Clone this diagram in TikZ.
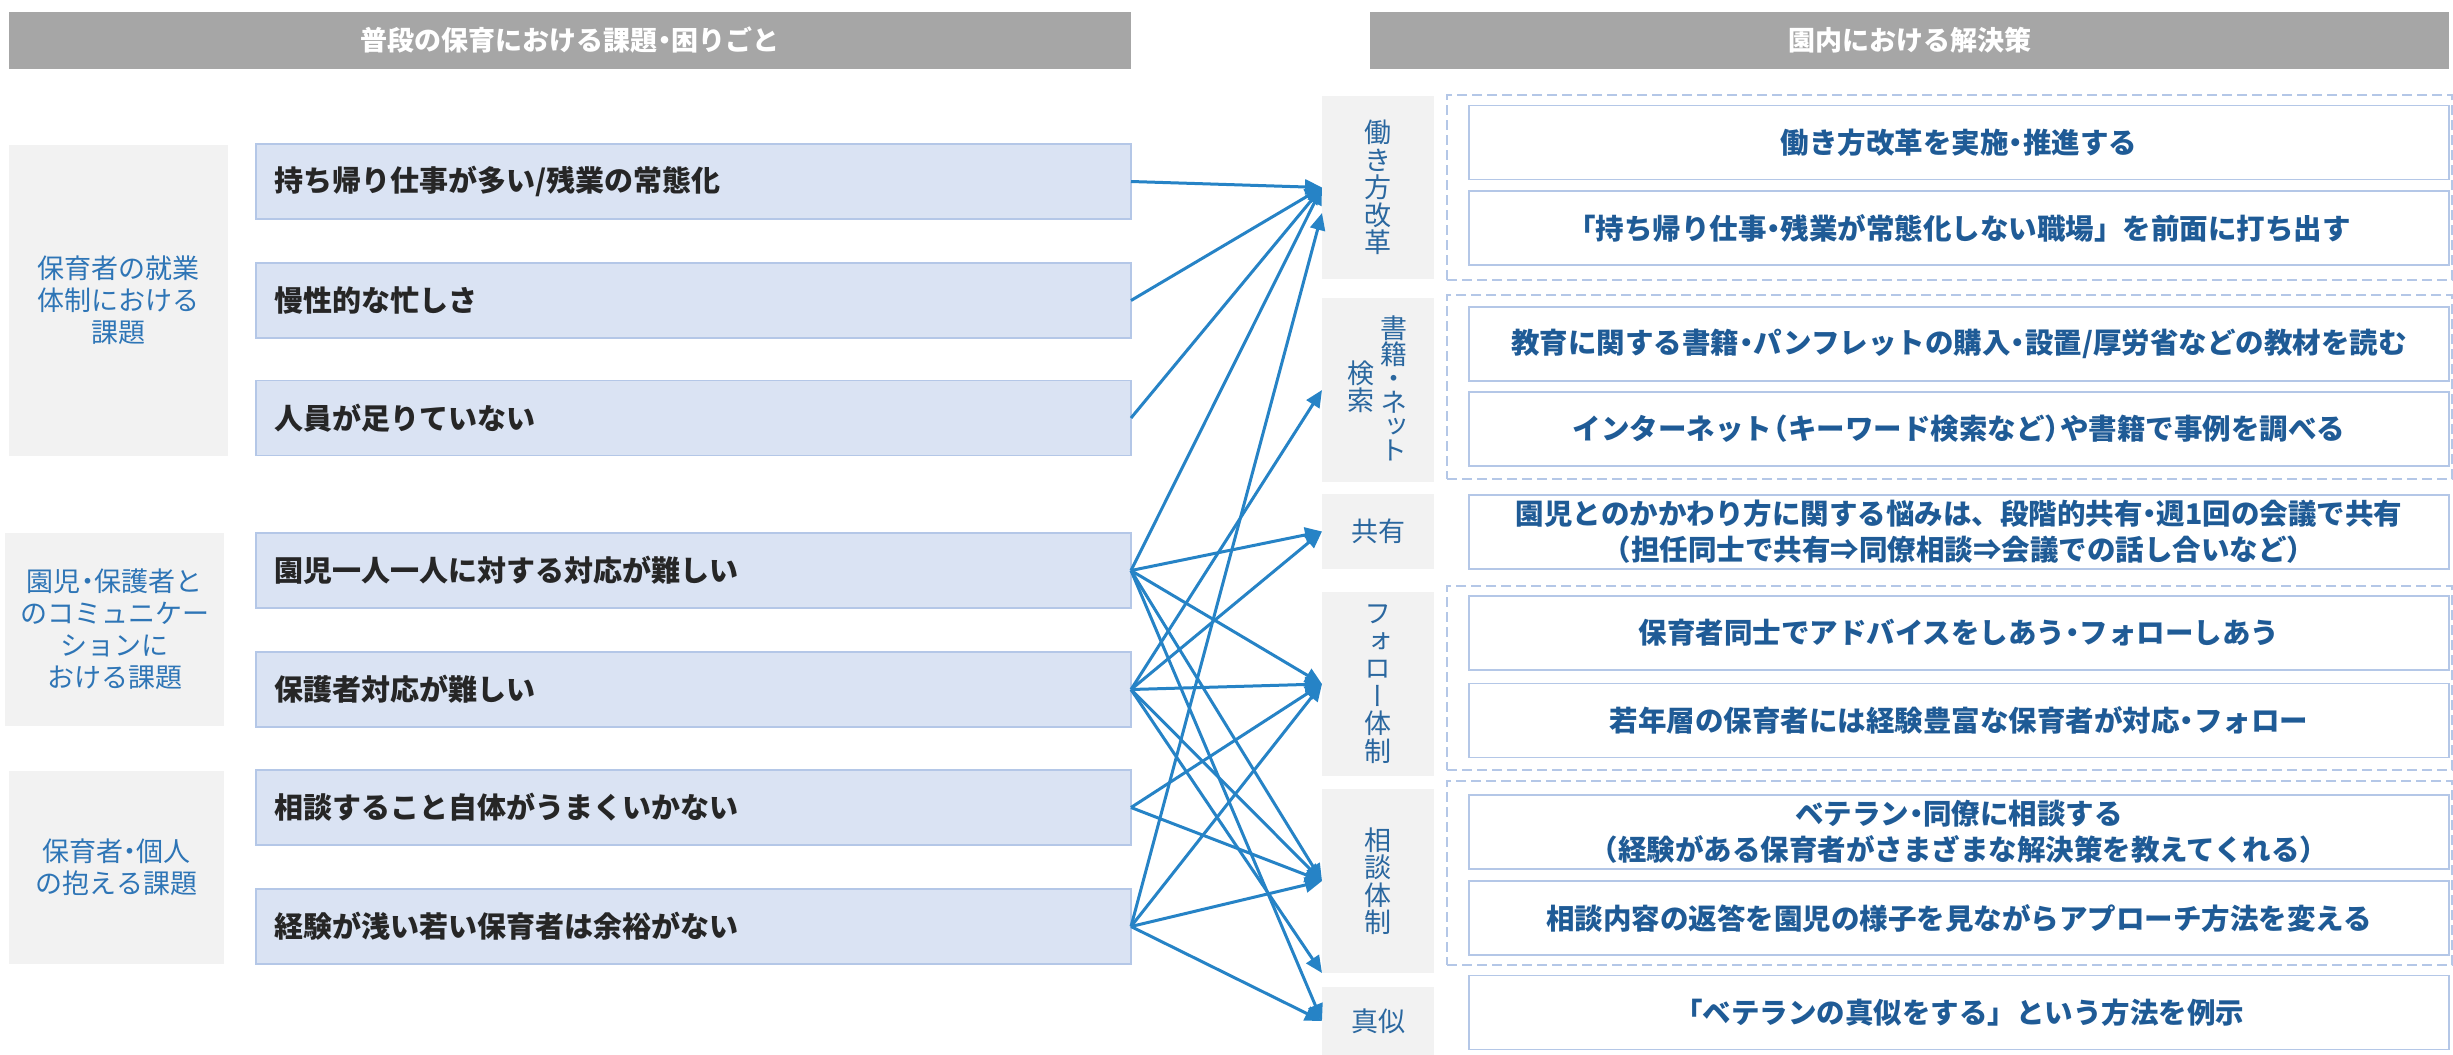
\documentclass[tikz,border=0pt]{standalone}
\usepackage{fontspec}
\setmainfont{Noto Sans CJK JP}
\newfontfamily\jpvert[RawFeature=+vert]{Noto Sans CJK JP}
\usetikzlibrary{arrows.meta}
\definecolor{hdrgray}{HTML}{A6A6A6}
\definecolor{greybg}{HTML}{F2F2F2}
\definecolor{itemfill}{HTML}{DAE3F3}
\definecolor{itemline}{HTML}{B4C7E7}
\definecolor{itemtext}{HTML}{262626}
\definecolor{catblue}{HTML}{2E75B6}
\definecolor{labblue}{HTML}{2A679F}
\definecolor{solblue}{HTML}{1F5B96}
\definecolor{arrowblue}{HTML}{2683C6}
\newcommand{\hdot}{\makebox[0.5em][c]{・}}
\newcommand{\hlp}{\makebox[0.55em][r]{（}}
\newcommand{\hrp}{\makebox[0.55em][l]{）}}
\begin{document}
\begin{tikzpicture}[x=1pt,y=-1pt,
  hdrbox/.style={fill=hdrgray, text=white, inner sep=0pt, outer sep=0pt,
    font=\fontsize{27}{30}\selectfont\bfseries, minimum height=57pt},
  catbox/.style={fill=greybg, text=catblue, align=center, inner sep=0pt, outer sep=0pt,
    font=\fontsize{27}{32}\selectfont},
  itembox/.style={fill=itemfill, draw=itemline, line width=1.2pt, text=itemtext,
    font=\fontsize{29}{35}\selectfont\bfseries, align=left, text width=839pt,
    inner xsep=18pt, inner ysep=0pt, outer sep=0pt, minimum height=75pt},
  labbox/.style={fill=greybg, text=labblue, align=center, inner sep=0pt, outer sep=0pt,
    minimum width=112pt, font=\jpvert\fontsize{27}{27.5}\selectfont},
  labtext/.style={text=labblue, align=center, inner sep=0pt},
  groupbox/.style={draw=itemline, dash pattern=on 10pt off 5pt, line width=2.5pt,
    minimum width=1005pt, inner sep=0pt, outer sep=0pt},
  solbox/.style={draw=itemline, fill=white, line width=1.8pt, text=solblue,
    font=\fontsize{28.5}{36}\selectfont\bfseries, align=center,
    minimum width=980pt, minimum height=74pt, inner sep=0pt, outer sep=0pt},
  conn/.style={draw=arrowblue, line width=3pt, -{Triangle[length=17pt,width=15pt]}}
]
\useasboundingbox (0,0) rectangle (2453,1055);
\fill[white] (0,0) rectangle (2453,1055);

% headers
\node[hdrbox, minimum width=1122pt] (hl) at (570,40.5) {普段の保育における課題\hdot 困りごと};
\node[hdrbox, minimum width=1079pt] (hr) at (1909.5,40.5) {園内における解決策};

% category boxes
\node[catbox, minimum width=219pt, minimum height=311pt] (c1) at (118.5,300.5)
  {保育者の就業\\体制における\\課題};
\node[catbox, minimum width=219pt, minimum height=193pt] (c2) at (114.5,629.5)
  {園児\hdot 保護者と\\のコミュニケー\\ションに\\おける課題};
\node[catbox, minimum width=215pt, minimum height=193pt] (c3) at (116.5,867.5)
  {保育者\hdot 個人\\の抱える課題};

% item boxes
\node[itembox] (i1) at (693.5,181.5) {持ち帰り仕事が多い/残業の常態化};
\node[itembox] (i2) at (693.5,300.5) {慢性的な忙しさ};
\node[itembox] (i3) at (693.5,418) {人員が足りていない};
\node[itembox] (i4) at (693.5,570.5) {園児一人一人に対する対応が難しい};
\node[itembox] (i5) at (693.5,689.5) {保護者対応が難しい};
\node[itembox] (i6) at (693.5,807.5) {相談すること自体がうまくいかない};
\node[itembox] (i7) at (693.5,926.5) {経験が浅い若い保育者は余裕がない};

% right label boxes
\node[labbox, minimum height=183pt] (r1) at (1378,187.5) {働\\き\\方\\改\\革};
\node[labbox, minimum height=184pt] (r2) at (1378,390) {};
\node[labtext, font=\jpvert\fontsize{27}{24}\selectfont] (r2a) at (1394,388) {書\\籍\\・\\ネ\\ッ\\ト};
\node[labtext, font=\jpvert\fontsize{27}{27}\selectfont] (r2b) at (1361,387) {検\\索};
\node[labbox, minimum height=75pt, font=\fontsize{27}{30}\selectfont] (r3) at (1378,531.5) {共有};
\node[labbox, minimum height=184pt] (r4) at (1378,684) {フ\\ォ\\ロ\\ー\\体\\制};
\node[labbox, minimum height=184pt] (r5) at (1378,881) {相\\談\\体\\制};
\node[labbox, minimum height=68pt, font=\fontsize{27}{30}\selectfont] (r6) at (1378,1021) {真似};

% dashed groups
\node[groupbox, minimum height=185pt] (g1) at (1949.5,187.5) {};
\node[groupbox, minimum height=184pt] (g2) at (1949.5,387) {};
\node[groupbox, minimum height=184pt] (g3) at (1949.5,678) {};
\node[groupbox, minimum height=184pt] (g4) at (1949.5,873) {};

% solution boxes
\node[solbox] (s1) at (1959,142.5) {働き方改革を実施\hdot 推進する};
\node[solbox] (s2) at (1959,228) {「持ち帰り仕事\hdot 残業が常態化しない職場」を前面に打ち出す};
\node[solbox] (s3) at (1959,344) {教育に関する書籍\hdot パンフレットの購入\hdot 設置/厚労省などの教材を読む};
\node[solbox] (s4) at (1959,429) {インターネット\hlp キーワード検索など\hrp や書籍で事例を調べる};
\node[solbox] (s5) at (1959,532) {園児とのかかわり方に関する悩みは、段階的共有\hdot 週1回の会議で共有\\\hlp 担任同士で共有⇒同僚相談⇒会議での話し合いなど\hrp};
\node[solbox] (s6) at (1959,633) {保育者同士でアドバイスをしあう\hdot フォローしあう};
\node[solbox] (s7) at (1959,720.5) {若年層の保育者には経験豊富な保育者が対応\hdot フォロー};
\node[solbox] (s8) at (1959,832) {ベテラン\hdot 同僚に相談する\\\hlp 経験がある保育者がさまざまな解決策を教えてくれる\hrp};
\node[solbox] (s9) at (1959,918) {相談内容の返答を園児の様子を見ながらアプローチ方法を変える};
\node[solbox] (s10) at (1959,1012.5) {「ベテランの真似をする」という方法を例示};

% extra arrow end point
\coordinate (r1b) at (1322,213);

% connectors
\draw[conn] (i1.east) -- (r1.west);
\draw[conn] (i2.east) -- (r1.west);
\draw[conn] (i3.east) -- (r1.west);
\draw[conn] (i4.east) -- (r1.west);
\draw[conn] (i4.east) -- (r3.west);
\draw[conn] (i4.east) -- (r4.west);
\draw[conn] (i4.east) -- (r5.west);
\draw[conn] (i4.east) -- (r6.west);
\draw[conn] (i5.east) -- (r2.west);
\draw[conn] (i5.east) -- (r3.west);
\draw[conn] (i5.east) -- (r4.west);
\draw[conn] (i5.east) -- (r5.west);
\draw[conn] (i5.east) -- (r5.south west);
\draw[conn] (i6.east) -- (r4.west);
\draw[conn] (i6.east) -- (r5.west);
\draw[conn] (i7.east) -- (r1b);
\draw[conn] (i7.east) -- (r4.west);
\draw[conn] (i7.east) -- (r5.west);
\draw[conn] (i7.east) -- (r6.west);
\end{tikzpicture}
\end{document}
